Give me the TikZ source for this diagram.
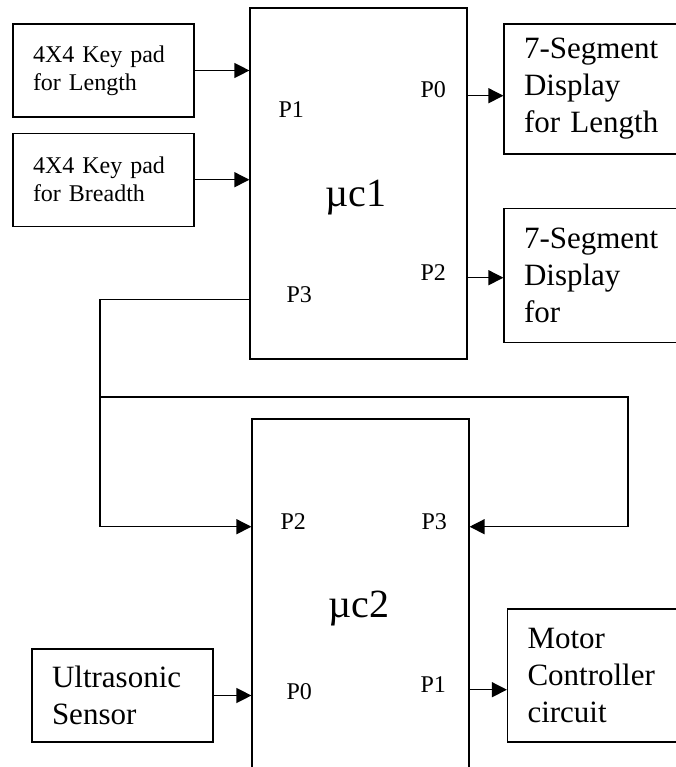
\documentclass[tikz,border=0pt]{standalone}
\usepackage{fontspec}
\setmainfont{Liberation Serif}
\usetikzlibrary{arrows.meta,positioning}

\begin{document}
\begin{tikzpicture}[
    x=1pt, y=-1pt,
    caixa/.style={draw, line width=1.2pt, align=left, inner xsep=20pt, inner ysep=0pt},
    teclado/.style={caixa, font=\fontsize{24}{28}\selectfont, text width=141pt,
        minimum height=93pt},
    saida/.style={caixa, font=\fontsize{31}{37}\selectfont, text width=156pt},
    micro/.style={draw, line width=1.2pt, minimum width=217pt},
    rotulo/.style={anchor=base, font=\fontsize{40}{46}\selectfont},
    porta/.style={anchor=base west, font=\fontsize{24}{28}\selectfont},
    fluxo/.style={-{Triangle[length=15pt, width=15pt]}, line width=1.3pt}
]
    \useasboundingbox (0,0) rectangle (676,767);
    \clip (0,0) rectangle (676,767);

    \node[micro, minimum height=351pt] (mc1) at (358.5,183.5) {};
    \node[micro, minimum height=381pt] (mc2) at (360.5,609.5) {};
    \node[rotulo] (nome1) at (356,207) {µc1};
    \node[rotulo] (nome2) at (359,617) {µc2};

    \node[teclado] (kpl) at (103.5,70.5) {4X4 Key pad\\for Length};
    \node[teclado, below=15pt of kpl] (kpb) {4X4 Key pad\\for Breadth};
    \node[saida, minimum height=130pt] (dsl) at (602,89) {7-Segment\\Display\\for Length};
    \node[saida, minimum height=134pt, below=53pt of dsl] (dsb) {7-Segment\\Display\\for};
    \node[teclado, font=\fontsize{31}{37}\selectfont] (uls) at (122.5,695.5) {Ultrasonic\\Sensor};
    \node[saida, minimum height=133pt] (mot) at (605.5,675.5) {Motor\\Controller\\circuit};

    \node[porta] (m1p1) at (275,118) {P1};
    \node[porta] (m1p0) at (417,98) {P0};
    \node[porta] (m1p3) at (283,302) {P3};
    \node[porta] (m1p2) at (417,280) {P2};
    \node[porta] (m2p2) at (277,529) {P2};
    \node[porta] (m2p3) at (418,529) {P3};
    \node[porta] (m2p0) at (283,699) {P0};
    \node[porta] (m2p1) at (417,692) {P1};

    \coordinate (volta1) at (100,397);
    \coordinate (volta2) at (628,397);

    \draw[fluxo] (kpl.east) -- (kpl.east -| mc1.west);
    \draw[fluxo] (kpb.east) -- (kpb.east -| mc1.west);
    \draw[fluxo] (m1p0.mid -| mc1.east) -- (m1p0.mid -| dsl.west);
    \draw[fluxo] (m1p2.mid -| mc1.east) -- (m1p2.mid -| dsb.west);
    \draw[fluxo] (m1p3.mid -| mc1.west) -| (volta1) |- (m2p2.mid -| mc2.west);
    \draw[fluxo] (volta1) -- (volta2) |- (m2p3.mid -| mc2.east);
    \draw[fluxo] (uls.east) -- (uls.east -| mc2.west);
    \draw[fluxo] (m2p1.mid -| mc2.east) -- (m2p1.mid -| mot.west);
\end{tikzpicture}
\end{document}
